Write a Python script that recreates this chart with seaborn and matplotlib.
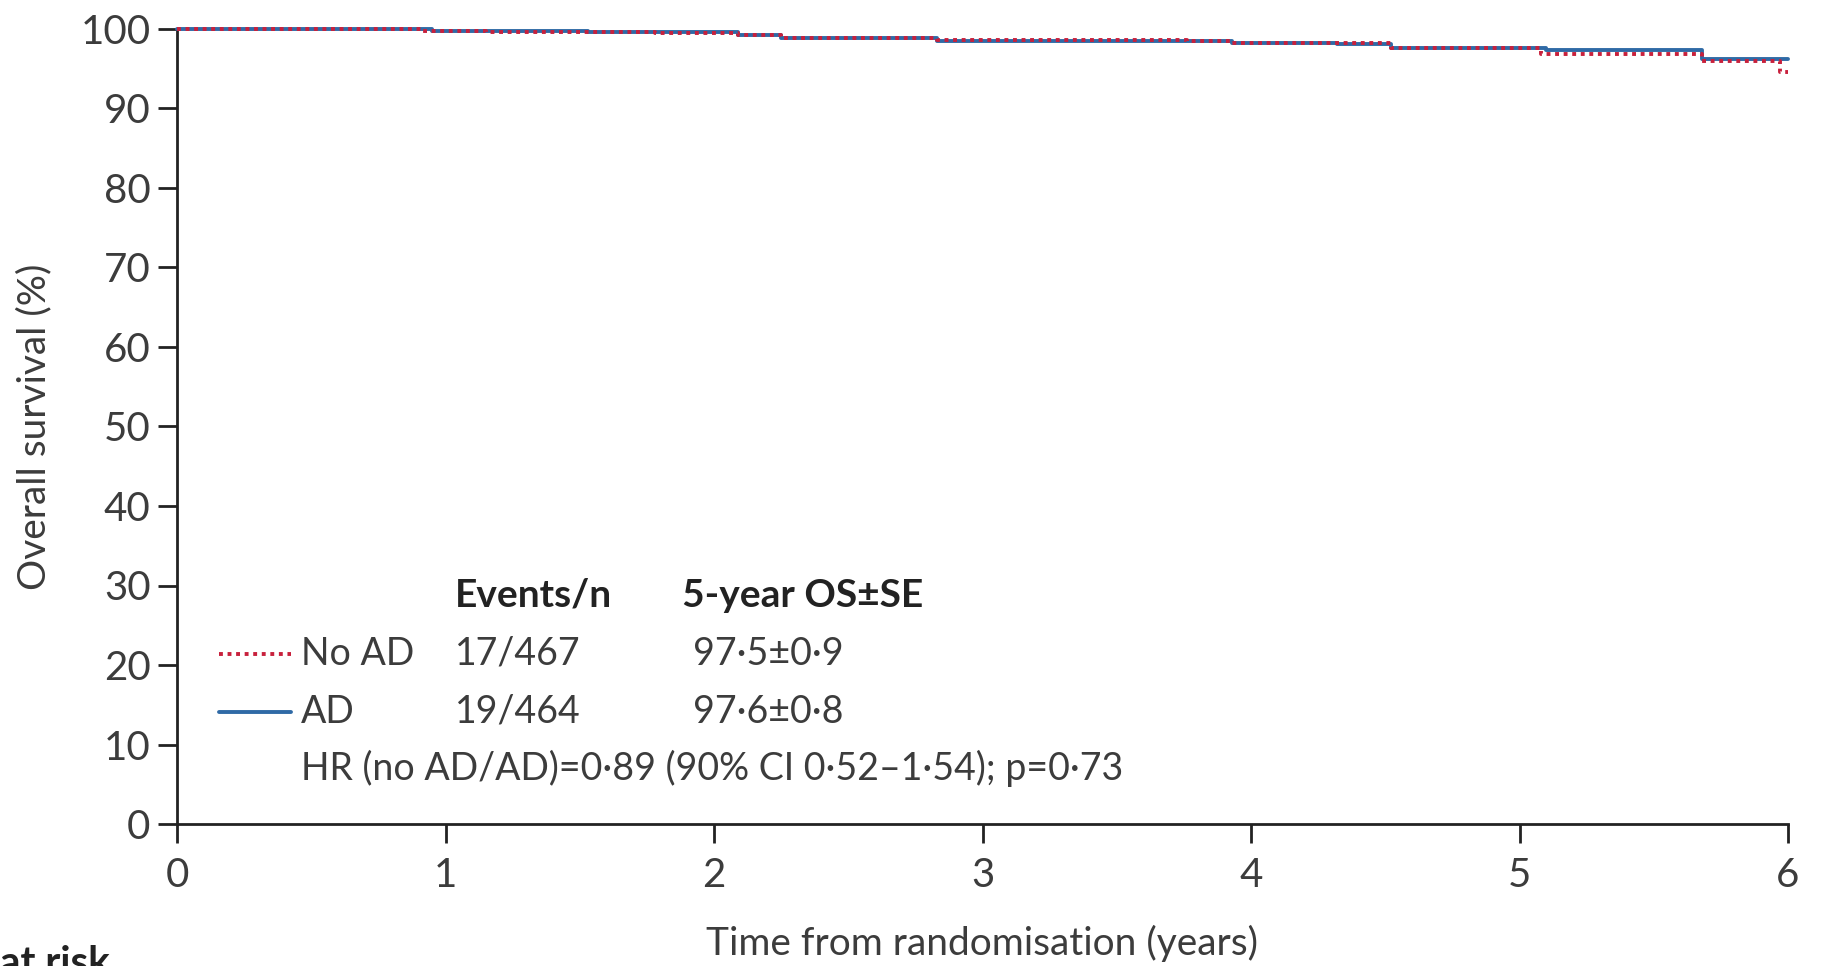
import matplotlib
matplotlib.use("Agg")
import matplotlib.pyplot as plt
import seaborn as sns
import pandas as pd

# ---- data ----
ad_time = [0, 0.95, 1.15, 1.53, 2.09, 2.25, 2.83, 3.93, 4.32, 4.52, 5.10, 5.68, 6.0]
ad_surv = [100, 99.8, 99.7, 99.6, 99.3, 98.9, 98.5, 98.3, 98.1, 97.6, 97.3, 96.2, 96.2]

noad_time = [0, 0.91, 1.15, 1.78, 2.09, 2.25, 2.83, 3.76, 3.93, 4.52, 5.08, 5.68, 5.97, 6.0]
noad_surv = [100, 99.8, 99.6, 99.5, 99.3, 98.9, 98.6, 98.5, 98.2, 97.6, 96.8, 96.0, 94.6, 94.6]

x_ticks = [0, 1, 2, 3, 4, 5, 6]
y_ticks = [0, 10, 20, 30, 40, 50, 60, 70, 80, 90, 100]

groups = ["No AD", "AD"]
events = ["17/467", "19/464"]
os5 = ["97·5±0·9", "97·6±0·8"]
hr_text = "HR (no AD/AD)=0·89 (90% CI 0·52–1·54); p=0·73"

sns.set_style("white")
plt.rcParams["font.family"] = ["Lato", "DejaVu Sans"]

txt_col = "#3c3c3c"
red = "#c8203c"
blue = "#2f6aa6"

fig = plt.figure(figsize=(18.29, 9.66), dpi=100)
ax = fig.add_axes([177 / 1829, 1 - 824 / 966, (1788 - 177) / 1829, (824 - 29) / 966])

df_ad = pd.DataFrame({"t": ad_time, "s": ad_surv})
df_no = pd.DataFrame({"t": noad_time, "s": noad_surv})

sns.lineplot(data=df_ad, x="t", y="s", ax=ax, estimator=None, drawstyle="steps-post",
             color=blue, lw=2.8, clip_on=False, zorder=3)
sns.lineplot(data=df_no, x="t", y="s", ax=ax, estimator=None, drawstyle="steps-post",
             color=red, lw=2.8, linestyle=(0, (1, 1.2)), clip_on=False, zorder=4)

ax.set_xlim(0, 6)
ax.set_ylim(0, 100)
ax.set_xticks(x_ticks)
ax.set_yticks(y_ticks)
ax.set_xticklabels([str(v) for v in x_ticks])
ax.set_yticklabels([str(v) for v in y_ticks])
for s in ["top", "right"]:
    ax.spines[s].set_visible(False)
for s in ["left", "bottom"]:
    ax.spines[s].set_linewidth(2.0)
    ax.spines[s].set_color("#222222")
ax.tick_params(axis="both", which="major", left=True, bottom=True, direction="out",
               length=14, width=2.0, color="#222222",
               labelsize=29, labelcolor=txt_col)
ax.tick_params(axis="x", pad=10)
ax.tick_params(axis="y", pad=5)
ax.set_xlabel("Time from randomisation (years)", fontsize=28, color=txt_col, labelpad=22)
ax.set_ylabel("Overall survival (%)", fontsize=28, color=txt_col, labelpad=20)

# legend-like table
fs = 27
ax.text(1.035, 28.8, "Events/n", fontsize=fs + 1, color="#222222", va="center", ha="left", weight="bold")
ax.text(1.88, 28.8, "5-year OS±SE", fontsize=fs + 1, color="#222222", va="center", ha="left", weight="bold")
rows_y = [21.4, 14.1]
styles = [(0, (1, 1.2)), "-"]
cols = [red, blue]
for g, e, o, yy, ls, c in zip(groups, events, os5, rows_y, styles, cols):
    ax.plot([0.155, 0.425], [yy, yy], color=c, lw=2.8, linestyle=ls)
    ax.text(0.46, yy, g, fontsize=fs, color=txt_col, va="center", ha="left")
    ax.text(1.035, yy, e, fontsize=fs, color=txt_col, va="center", ha="left")
    ax.text(1.92, yy, o, fontsize=fs, color=txt_col, va="center", ha="left")
ax.text(0.46, 7.0, hr_text, fontsize=fs, color=txt_col, va="center", ha="left")

fig.text(0.0, 0.022, "at risk", fontsize=29, color="#222222", weight="bold", va="top", ha="left")

fig.savefig("out.png", dpi=100)
